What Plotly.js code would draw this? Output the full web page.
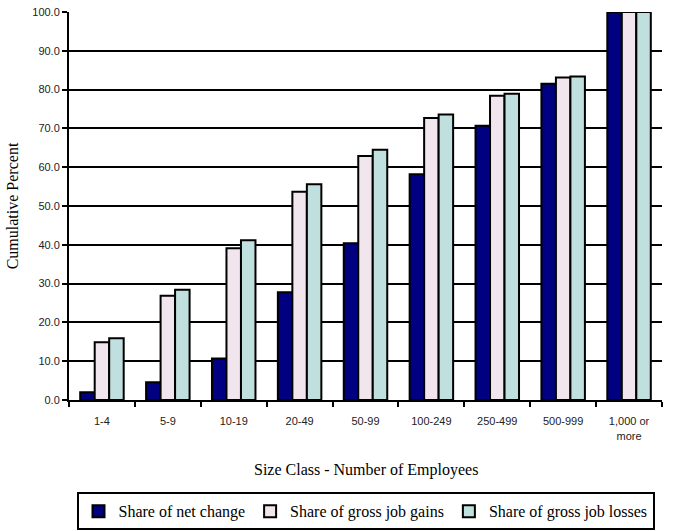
<!DOCTYPE html>
<html>
<head>
<meta charset="utf-8">
<script src="https://cdn.plot.ly/plotly-3.0.1.min.js"></script>
<style>html,body{margin:0;padding:0;background:#fff;}#chart{width:673px;height:531px;}</style>
</head>
<body>
<div id="chart"></div>
<script>
const categories = ["1-4", "5-9", "10-19", "20-49", "50-99", "100-249", "250-499", "500-999", "1,000 or<br>more"];
const netChange = [2.0, 4.6, 10.7, 27.8, 40.4, 58.2, 70.7, 81.5, 100.0];
const grossGains = [14.9, 26.9, 39.1, 53.7, 62.9, 72.7, 78.4, 83.1, 100.0];
const grossLosses = [15.9, 28.4, 41.2, 55.6, 64.5, 73.6, 78.9, 83.4, 100.0];
const seriesNames = ["Share of net change", "Share of gross job gains", "Share of gross job losses"];
const yTicks = [0, 10, 20, 30, 40, 50, 60, 70, 80, 90, 100];
const gridTicks = [10, 20, 30, 40, 50, 60, 70, 80, 90];

const SERIF = "'Liberation Serif', 'Times New Roman', serif";
const SANS = "'Liberation Sans', Arial, sans-serif";
const lineStyle = {color: "#000", width: 2};
const traces = [
  {type: "bar", name: seriesNames[0], x: categories, y: netChange, marker: {color: "#000080", line: lineStyle}},
  {type: "bar", name: seriesNames[1], x: categories, y: grossGains, marker: {color: "#F2E6EE", line: lineStyle}},
  {type: "bar", name: seriesNames[2], x: categories, y: grossLosses, marker: {color: "#C0E0DF", line: lineStyle}},
  {type: "scatter", x: categories, y: grossLosses, yaxis: "y2", mode: "none", showlegend: false, hoverinfo: "skip"}
];

const layout = {
  width: 673, height: 531,
  margin: {l: 69, r: 11, t: 12, b: 131, autoexpand: false},
  paper_bgcolor: "#fff", plot_bgcolor: "#fff",
  barmode: "group", bargap: 0.34, bargroupgap: 0,
  showlegend: true,
  xaxis: {
    type: "category", tickson: "boundaries", ticks: "outside", ticklen: 5, tickwidth: 2, tickcolor: "#000",
    showline: true, linecolor: "#000", linewidth: 2, showgrid: false, automargin: false,
    ticklabelstandoff: 10,
    tickfont: {family: SANS, size: 11, color: "#222"},
    range: [-0.5, 8.5]
  },
  yaxis: {
    range: [0, 100], tickvals: yTicks, tickformat: ".1f", automargin: false,
    ticks: "outside", ticklen: 5, tickwidth: 2, tickcolor: "#000",
    showline: true, linecolor: "#000", linewidth: 2, showgrid: false, zeroline: false,
    tickfont: {family: SANS, size: 11, color: "#222"},
    title: {text: "Cumulative Percent", font: {family: SERIF, size: 16, color: "#000"}, standoff: 10}
  },
  yaxis2: {
    overlaying: "y", range: [0, 100], tickvals: gridTicks, showticklabels: false, automargin: false,
    showgrid: true, gridcolor: "#000", gridwidth: 2, zeroline: false, ticks: "", layer: "below traces"
  },
  legend: {
    orientation: "h", x: 0.5, xanchor: "center", y: -0.238, yanchor: "top",
    bordercolor: "#000", borderwidth: 2, bgcolor: "#fff",
    font: {family: SERIF, size: 16, color: "#000"},
    itemwidth: 30, tracegroupgap: 0
  },
  annotations: [{
    text: "Size Class - Number of Employees", xref: "paper", yref: "paper", x: 0.5, y: -0.18,
    xanchor: "center", yanchor: "middle", showarrow: false,
    font: {family: SERIF, size: 16, color: "#000"}
  }]
};

Plotly.newPlot("chart", traces, layout, {displayModeBar: false, staticPlot: true});
</script>
</body>
</html>
